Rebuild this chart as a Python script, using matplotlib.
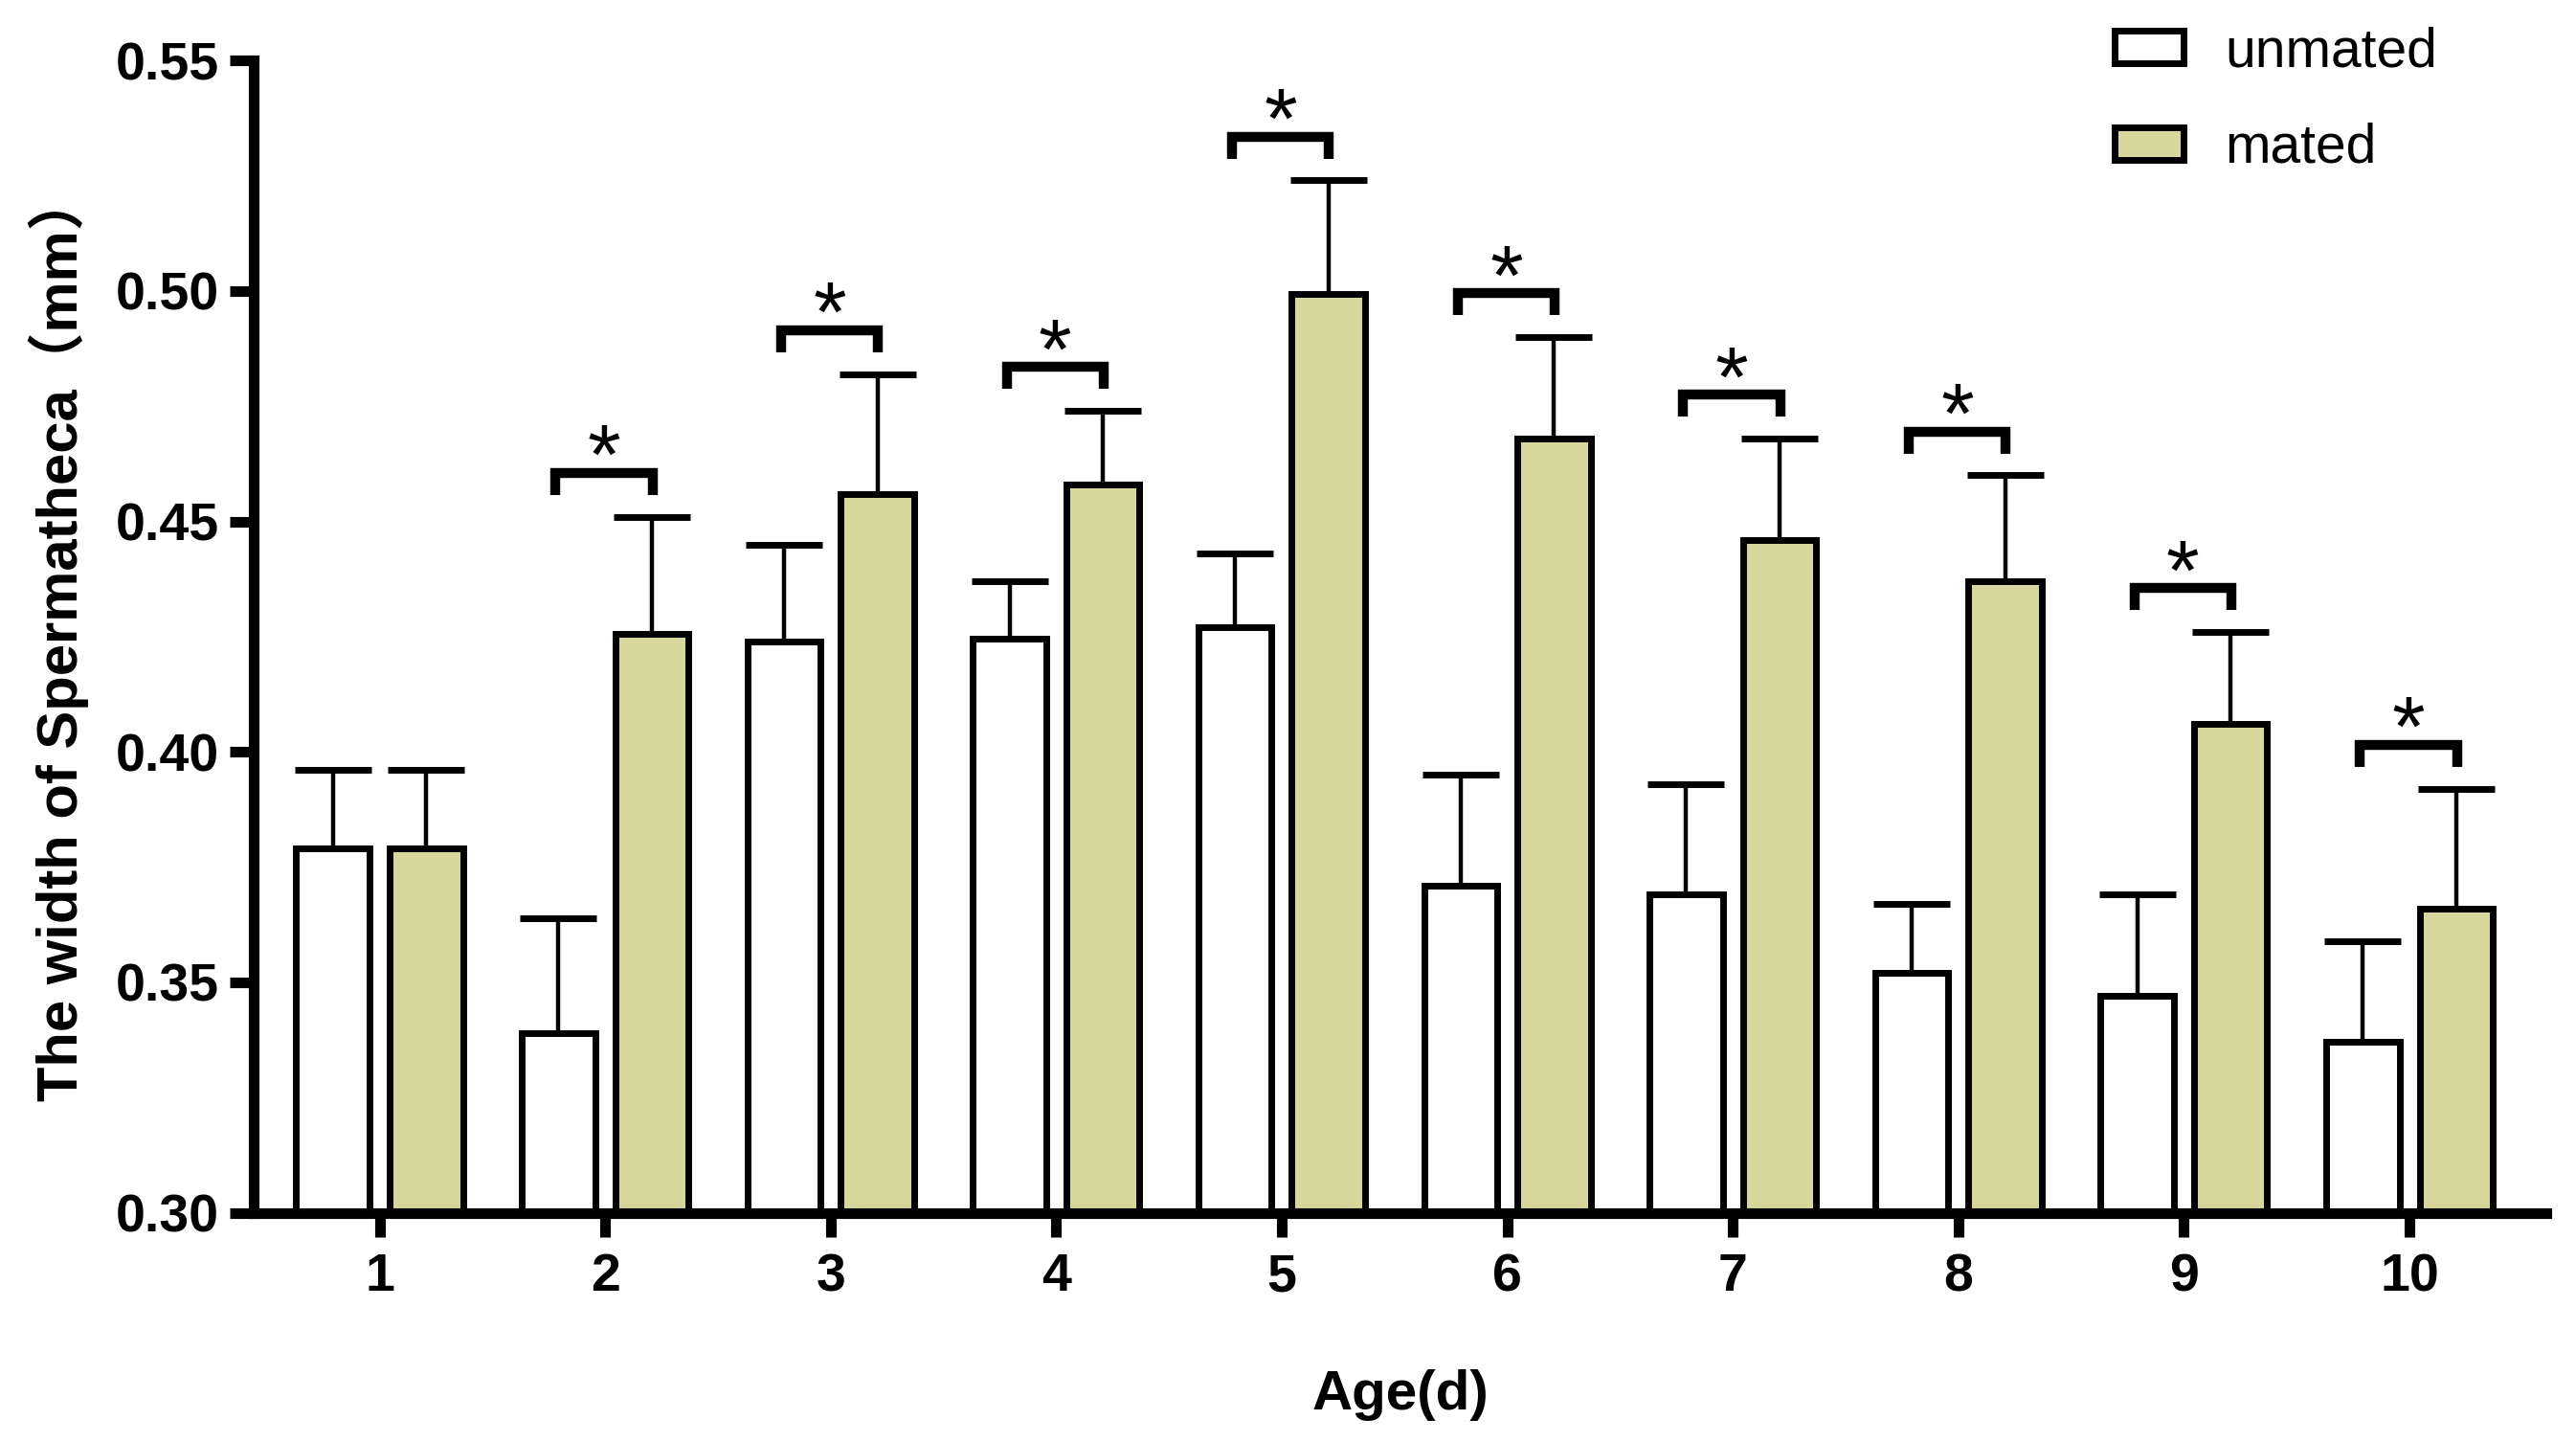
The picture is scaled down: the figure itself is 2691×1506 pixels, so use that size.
import numpy as np
import matplotlib.pyplot as plt
from matplotlib.patches import Patch

plt.rcParams['font.family'] = ['Liberation Sans', 'Noto Sans CJK SC', 'DejaVu Sans']

# data
ages = [1, 2, 3, 4, 5, 6, 7, 8, 9, 10]
unmated = [0.379, 0.339, 0.424, 0.4245, 0.427, 0.371, 0.369, 0.352, 0.347, 0.337]
unmated_sd = [0.017, 0.025, 0.021, 0.0125, 0.016, 0.024, 0.024, 0.015, 0.022, 0.022]
mated = [0.379, 0.4255, 0.456, 0.458, 0.4994, 0.468, 0.446, 0.437, 0.406, 0.366]
mated_sd = [0.017, 0.0255, 0.026, 0.016, 0.0246, 0.022, 0.022, 0.023, 0.020, 0.026]
signif = [False, True, True, True, True, True, True, True, True, True]

mated_color = '#d7d69c'

fig = plt.figure(figsize=(26.91, 15.06), dpi=100)
ax = fig.add_axes([0.0985, 0.159, 0.89, 0.799])

x = np.array(ages, dtype=float)
off = 0.207
w = 0.325
lw_bar = 5

ax.bar(x - off, unmated, width=w, color='white', edgecolor='black', linewidth=lw_bar, zorder=2)
ax.bar(x + off, mated, width=w, color=mated_color, edgecolor='black', linewidth=lw_bar, zorder=2)

zeros = np.zeros(len(ages))
ax.errorbar(x - off, unmated, yerr=[zeros, unmated_sd], fmt='none', ecolor='black',
            elinewidth=3.2, capsize=29, capthick=5, zorder=1)
ax.errorbar(x + off, mated, yerr=[zeros, mated_sd], fmt='none', ecolor='black',
            elinewidth=3.2, capsize=29, capthick=5, zorder=1)

# significance brackets
for xi, m, s, u, us, sig in zip(x, mated, mated_sd, unmated, unmated_sd, signif):
    if not sig:
        continue
    top = max(m + s, u + us) + 0.0095
    leg = 0.0048
    ax.plot([xi - 0.22, xi - 0.22, xi + 0.21, xi + 0.21],
            [top - leg, top, top, top - leg],
            color='black', linewidth=7.5, solid_capstyle='butt', solid_joinstyle='miter',
            zorder=3, clip_on=False)
    ax.annotate('*', xy=(xi - 0.005, top), xytext=(0, -8), textcoords='offset points',
                ha='center', va='baseline', fontsize=64, zorder=3)

ax.set_xlim(0.442, 10.607)
ax.set_ylim(0.30, 0.55)
ax.set_yticks([0.30, 0.35, 0.40, 0.45, 0.50, 0.55])
ax.set_yticklabels(['0.30', '0.35', '0.40', '0.45', '0.50', '0.55'])
ax.set_xticks(ages)
ax.set_xticklabels([str(a) for a in ages])

for side in ['top', 'right']:
    ax.spines[side].set_visible(False)
for side in ['left', 'bottom']:
    ax.spines[side].set_linewidth(8)
    ax.spines[side].set_zorder(4)

ax.tick_params(axis='both', direction='out', length=18, width=8, labelsize=40)
ax.tick_params(axis='y', pad=8)
ax.tick_params(axis='x', pad=12)
for lab in ax.get_xticklabels() + ax.get_yticklabels():
    lab.set_fontweight('bold')

ax.set_xlabel('Age(d)', fontsize=42, fontweight='bold', labelpad=50)
ax.set_ylabel('The width of Spermatheca（mm）', fontsize=43, fontweight='bold', labelpad=20)

handles = [Patch(facecolor='white', edgecolor='black', linewidth=lw_bar, label='unmated'),
           Patch(facecolor=mated_color, edgecolor='black', linewidth=lw_bar, label='mated')]
fig.legend(handles=handles, loc='upper left', bbox_to_anchor=(2209 / 2691, 1 - 27 / 1506),
           frameon=False, fontsize=41, handlelength=1.27, handleheight=0.54,
           handletextpad=0.75, labelspacing=0.82, borderpad=0, borderaxespad=0)

fig.savefig('out.png', dpi=100)
